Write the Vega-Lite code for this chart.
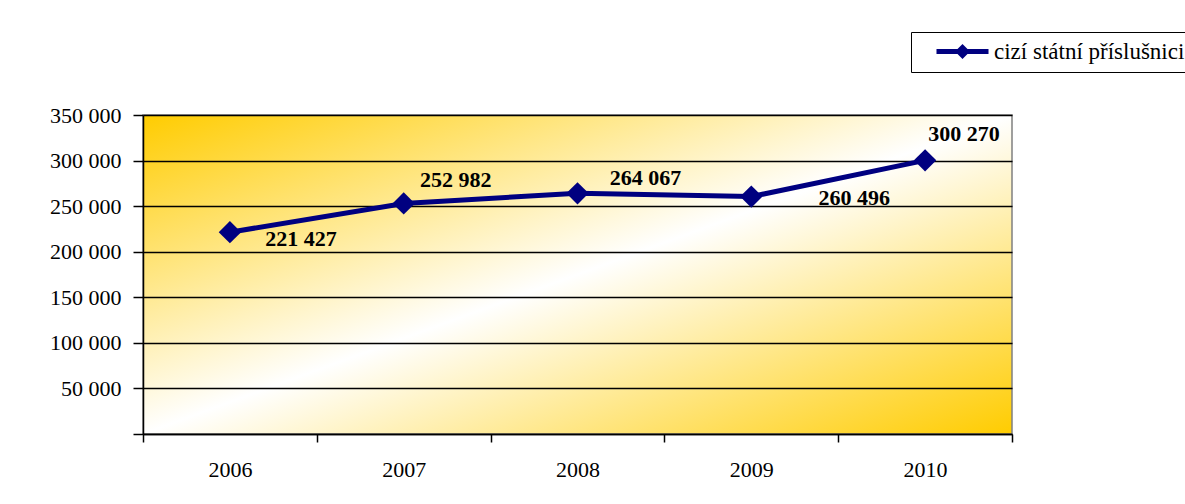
{
  "$schema": "https://vega.github.io/schema/vega-lite/v6.json",
  "width": 869,
  "height": 319,
  "autosize": "none",
  "padding": {"left": 143, "top": 115, "right": 173, "bottom": 70},
  "background": "white",
  "config": {
    "locale": {"number": {"decimal": ",", "thousands": " ", "grouping": [3], "currency": ["", " Kč"]}},
    "font": "Liberation Serif",
    "view": {
      "stroke": "#808080",
      "strokeWidth": 1.5,
      "fill": {"gradient": "linear", "x1": 0, "y1": 0, "x2": 1, "y2": 1,
        "stops": [{"offset": 0, "color": "#FFCC00"}, {"offset": 0.5, "color": "#FFFFFF"}, {"offset": 1, "color": "#FFCC00"}]}
    }
  },
  "data": {"values": [
    {"year": "2006", "value": 221427, "series": "cizí státní příslušnici"},
    {"year": "2007", "value": 252982, "series": "cizí státní příslušnici"},
    {"year": "2008", "value": 264067, "series": "cizí státní příslušnici"},
    {"year": "2009", "value": 260496, "series": "cizí státní příslušnici"},
    {"year": "2010", "value": 300270, "series": "cizí státní příslušnici"}
  ]},
  "encoding": {
    "x": {"field": "year", "type": "ordinal", "bandPosition": 0.5,
      "scale": {"type": "band", "paddingInner": 0, "paddingOuter": 0},
      "axis": {"title": null, "labelAngle": 0, "tickBand": "extent", "domainColor": "black", "domainWidth": 1.5,
        "tickColor": "black", "tickWidth": 1.5, "tickSize": 8, "labelPadding": 17, "labelFontSize": 22,
        "labelFont": "Liberation Serif", "labelColor": "black", "grid": false}},
    "y": {"field": "value", "type": "quantitative",
      "scale": {"domain": [0, 350000], "nice": false},
      "axis": {"title": null, "values": [0, 50000, 100000, 150000, 200000, 250000, 300000, 350000],
        "format": ",d", "labelExpr": "datum.value === 0 ? '' : datum.label",
        "grid": true, "gridColor": "black", "gridWidth": 1.5, "domainColor": "black", "domainWidth": 1.5,
        "tickColor": "black", "tickWidth": 1.5, "tickSize": 10, "labelPadding": 12, "labelFontSize": 22,
        "labelFont": "Liberation Serif", "labelColor": "black"}}
  },
  "layer": [
    {
      "mark": {"type": "line", "strokeWidth": 5},
      "encoding": {
        "color": {"field": "series", "type": "nominal",
          "scale": {"range": ["#000080"]},
          "legend": {"title": null, "orient": "none", "legendX": 768, "legendY": -83,
            "strokeColor": "black", "fillColor": "white", "padding": 8,
            "labelFontSize": 23, "labelFont": "Liberation Serif", "labelColor": "black", "labelLimit": 500,
            "symbolType": "M-2.89,-0.28L2.89,-0.28L2.89,0.28L-2.89,0.28Z M0,-0.83L0.83,0L0,0.83L-0.83,0Z",
            "symbolSize": 324, "symbolOffset": 32, "labelOffset": 20,
            "symbolFillColor": "#000080", "symbolStrokeWidth": 0,
            "encode": {"symbols": {"update": {"fill": {"value": "#000080"}, "stroke": {"value": "transparent"}, "strokeWidth": {"value": 0}}}}}}
      }
    },
    {
      "mark": {"type": "point", "shape": "diamond", "filled": true, "size": 500, "color": "#000080", "opacity": 1}
    },
    {
      "transform": [{"filter": "datum.year == '2006'"}],
      "mark": {"type": "text", "font": "Liberation Serif", "fontSize": 22, "fontWeight": "bold", "color": "black", "align": "center", "baseline": "alphabetic", "dx": 71, "dy": 14},
      "encoding": {"text": {"field": "value", "type": "quantitative", "format": ",d"}}
    },
    {
      "transform": [{"filter": "datum.year == '2007'"}],
      "mark": {"type": "text", "font": "Liberation Serif", "fontSize": 22, "fontWeight": "bold", "color": "black", "align": "center", "baseline": "alphabetic", "dx": 52, "dy": -16},
      "encoding": {"text": {"field": "value", "type": "quantitative", "format": ",d"}}
    },
    {
      "transform": [{"filter": "datum.year == '2008'"}],
      "mark": {"type": "text", "font": "Liberation Serif", "fontSize": 22, "fontWeight": "bold", "color": "black", "align": "center", "baseline": "alphabetic", "dx": 68, "dy": -8},
      "encoding": {"text": {"field": "value", "type": "quantitative", "format": ",d"}}
    },
    {
      "transform": [{"filter": "datum.year == '2009'"}],
      "mark": {"type": "text", "font": "Liberation Serif", "fontSize": 22, "fontWeight": "bold", "color": "black", "align": "center", "baseline": "alphabetic", "dx": 103, "dy": 8},
      "encoding": {"text": {"field": "value", "type": "quantitative", "format": ",d"}}
    },
    {
      "transform": [{"filter": "datum.year == '2010'"}],
      "mark": {"type": "text", "font": "Liberation Serif", "fontSize": 22, "fontWeight": "bold", "color": "black", "align": "center", "baseline": "alphabetic", "dx": 39, "dy": -19},
      "encoding": {"text": {"field": "value", "type": "quantitative", "format": ",d"}}
    }
  ]
}
